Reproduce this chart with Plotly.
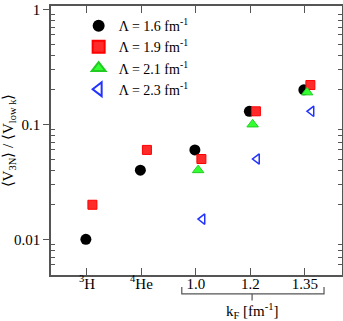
import plotly.graph_objects as go

categories = ["<sup>3</sup>H", "<sup>4</sup>He", "1.0", "1.2", "1.35"]
lam16 = [0.01, 0.04, 0.06, 0.13, 0.20]
lam19 = [0.02, 0.06, 0.05, 0.13, 0.22]
lam21 = [None, None, 0.04, 0.10, 0.19]
lam23 = [None, None, 0.015, 0.05, 0.13]

series = [
    ("Λ = 1.6 fm<sup>-1</sup>", lam16, -0.02, dict(symbol="circle", size=11, color="black")),
    ("Λ = 1.9 fm<sup>-1</sup>", lam19, 0.1, dict(symbol="square", size=9, color="#ff2a2a",
                                                 line=dict(color="#ff0000", width=1))),
    ("Λ = 2.1 fm<sup>-1</sup>", lam21, 0.04, dict(symbol="triangle-up", size=10, color="#33ff33",
                                                  line=dict(color="#22cc22", width=1))),
    ("Λ = 2.3 fm<sup>-1</sup>", lam23, 0.12, dict(symbol="triangle-left-open", size=9, color="#2233ff",
                                                  line=dict(color="#2233ff", width=1.5))),
]

font = "Liberation Serif, Times New Roman, serif"
fig = go.Figure()
for name, vals, off, mk in series:
    xs = [i + 1 + off for i in range(len(categories))]
    fig.add_trace(go.Scatter(x=xs, y=vals, mode="markers", name=name, marker=mk))

pos = list(range(1, len(categories) + 1))
fig.update_layout(
    width=343, height=321,
    margin=dict(l=51, r=1, t=6, b=46, autoexpand=False),
    paper_bgcolor="white", plot_bgcolor="white",
    font=dict(family=font, size=14, color="black"),
    showlegend=True,
    legend=dict(x=0.095, y=0.985, xanchor="left", yanchor="top", bgcolor="rgba(0,0,0,0)",
                font=dict(size=14), tracegroupgap=0, itemsizing="constant"),
    xaxis=dict(range=[0.34, 5.68], tickmode="array", tickvals=pos, ticktext=categories,
               showgrid=False, zeroline=False, showline=True, linecolor="#555", linewidth=1.5,
               mirror="allticks", ticks="inside", ticklen=7, tickcolor="#555",
               ticklabelstandoff=-6,
               tickfont=dict(size=15), automargin=False),
    yaxis=dict(type="log", range=[-2.31, 0.03], tickvals=[0.01, 0.1, 1], ticktext=["0.01", "0.1", "1"],
               showgrid=False, zeroline=False, showline=True, linecolor="#555", linewidth=1.5,
               mirror="allticks", ticks="outside", ticklen=6, tickcolor="#555",
               tickfont=dict(size=15), automargin=False,
               minor=dict(ticks="inside", ticklen=4, tickcolor="#555",
                          tickvals=[0.006, 0.007, 0.008, 0.009, 0.02, 0.03, 0.04, 0.05, 0.06, 0.07, 0.08, 0.09,
                                    0.2, 0.3, 0.4, 0.5, 0.6, 0.7, 0.8, 0.9]),
               title=dict(text="⟨V<sub>3N</sub>⟩ / ⟨V<sub>low k</sub>⟩", font=dict(size=15), standoff=4)),
)

# bracket for k_F group
x0, x1, xm = 3 - 0.26, 5 + 0.35, 4.03
fig.add_shape(type="path", xref="x", yref="paper",
              path=f"M {x0},-0.045 L {x0},-0.07 L {x1},-0.07 L {x1},-0.045",
              line=dict(color="#555", width=1.2))
fig.add_shape(type="line", xref="x", yref="paper", x0=xm, x1=xm, y0=-0.07, y1=-0.095,
              line=dict(color="#555", width=1.2))
fig.add_annotation(x=xm, y=-0.088, xref="x", yref="paper", text="k<sub>F</sub> [fm<sup>-1</sup>]",
                   showarrow=False, yanchor="top", font=dict(size=15))

fig.write_html("out.html", config={"displayModeBar": False},
               post_script="document.body.style.margin='0';document.body.style.overflow='hidden';")
